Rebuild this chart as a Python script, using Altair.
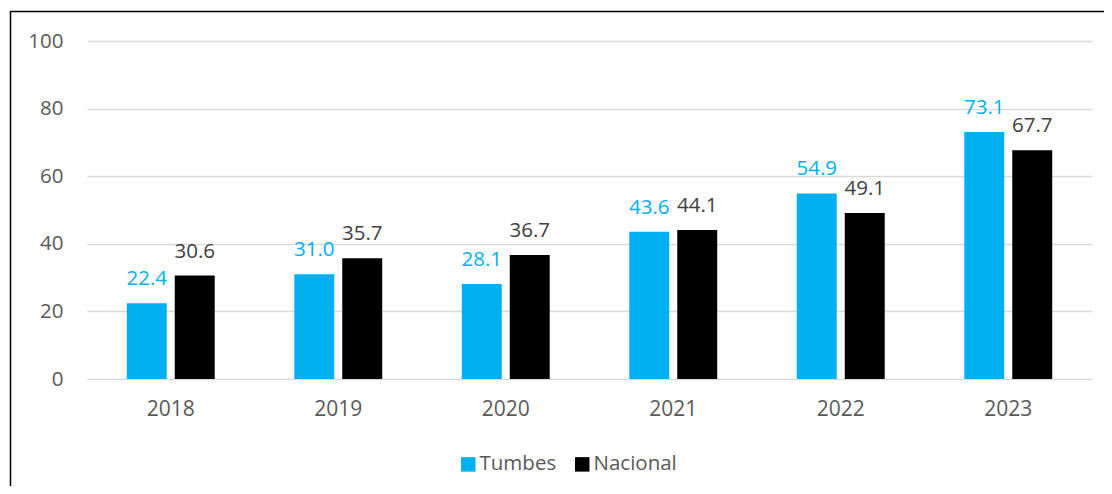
import altair as alt
import pandas as pd

years = ["2018", "2019", "2020", "2021", "2022", "2023"]
tumbes = [22.4, 31.0, 28.1, 43.6, 54.9, 73.1]
nacional = [30.6, 35.7, 36.7, 44.1, 49.1, 67.7]
series = ["Tumbes", "Nacional"]
colors = ["#00B0F0", "#000000"]
label_colors = ["#00B0F0", "#404040"]

rows = []
for i, y in enumerate(years):
    rows.append({"year": y, "serie": "Tumbes", "value": tumbes[i], "lbl": f"{tumbes[i]:.1f}"})
    rows.append({"year": y, "serie": "Nacional", "value": nacional[i], "lbl": f"{nacional[i]:.1f}"})
df = pd.DataFrame(rows)

FONT = "Open Sans"

x = alt.X("year:N", title=None, sort=years,
          scale=alt.Scale(paddingInner=0.475, paddingOuter=0.2375),
          axis=alt.Axis(labelAngle=0, domain=False, ticks=False, labelPadding=19,
                        labelFontSize=21, labelColor="#595959", labelFont=FONT))
xoff = alt.XOffset("serie:N", sort=series, scale=alt.Scale(paddingInner=0.167, paddingOuter=0))
y = alt.Y("value:Q", title=None,
          scale=alt.Scale(domain=[0, 100]),
          axis=alt.Axis(values=[0, 20, 40, 60, 80, 100], domain=False, ticks=False,
                        labelPadding=24, labelFontSize=20.5, labelColor="#595959", labelFont=FONT,
                        gridColor="#D9D9D9", gridWidth=1.5))

base = alt.Chart(df)

bars = base.mark_bar().encode(
    x=x, xOffset=xoff, y=y,
    color=alt.Color("serie:N", sort=series,
                    scale=alt.Scale(domain=series, range=colors),
                    legend=alt.Legend(title=None, orient="none", direction="horizontal",
                                      legendX=371, legendY=413, symbolType="square",
                                      symbolSize=210, symbolStrokeWidth=0, labelFontSize=20.5,
                                      labelColor="#595959", labelFont=FONT, columnPadding=15,
                                      labelOffset=1))
)

labels = base.mark_text(baseline="bottom", dy=-14, fontSize=20.5, font=FONT).encode(
    x=x, xOffset=xoff, y=y, text="lbl:N",
    color=alt.Color("serie:N", sort=series,
                    scale=alt.Scale(domain=series, range=label_colors), legend=None)
)

frame = alt.Chart(pd.DataFrame({"a": [0]})).mark_rect(
    fill=None, stroke="black", strokeWidth=1.5, clip=False
).encode(
    x=alt.value(-76.5), x2=alt.value(1040), y=alt.value(-29.5), y2=alt.value(470)
)

chart = alt.layer(frame, bars, labels).resolve_scale(color="independent").properties(
    width=1005, height=338,
    autosize=alt.AutoSizeParams(type="none"),
    padding={"left": 79, "top": 33, "right": 12, "bottom": 107},
).configure_view(stroke=None)

chart.save("out.html", embed_options={"renderer": "svg", "actions": False})
